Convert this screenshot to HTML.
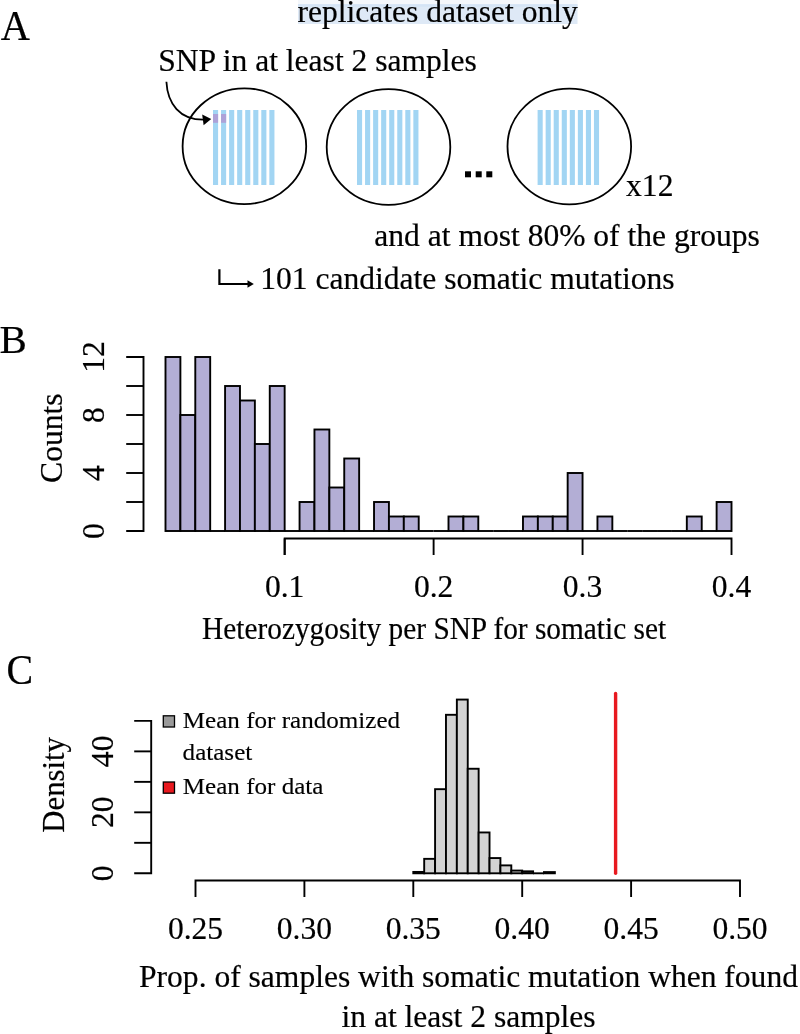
<!DOCTYPE html>
<html><head><meta charset="utf-8"><style>
html,body{margin:0;padding:0;background:#fff;width:800px;height:1034px;overflow:hidden;}
svg{display:block;will-change:transform;}
text{font-family:"Liberation Serif",serif;fill:#000;stroke:#000;stroke-width:0.2px;}
</style></head><body>
<svg width="800" height="1034" viewBox="0 0 800 1034">
<rect x="298" y="0" width="279.5" height="4.2" fill="#f4f7fb"/>
<rect x="298" y="4.2" width="279.5" height="19.8" fill="#dee9f6"/>
<rect x="298" y="4.2" width="279.5" height="2.5" fill="#d5e4f5"/>
<text x="297.5" y="21.75" font-size="31.55">replicates dataset only</text>
<text transform="translate(0.8,39.75) scale(0.962,1)" font-size="42">A</text>
<text x="158.2" y="70.5" font-size="31.55">SNP in at least 2 samples</text>
<rect x="213.00" y="110" width="5.1" height="75" fill="#a2d5f3"/>
<rect x="221.05" y="110" width="5.1" height="75" fill="#a2d5f3"/>
<rect x="229.10" y="110" width="5.1" height="75" fill="#a2d5f3"/>
<rect x="237.15" y="110" width="5.1" height="75" fill="#a2d5f3"/>
<rect x="245.20" y="110" width="5.1" height="75" fill="#a2d5f3"/>
<rect x="253.25" y="110" width="5.1" height="75" fill="#a2d5f3"/>
<rect x="261.30" y="110" width="5.1" height="75" fill="#a2d5f3"/>
<rect x="269.35" y="110" width="5.1" height="75" fill="#a2d5f3"/>
<ellipse cx="244.4" cy="146.2" rx="61.8" ry="57.9" fill="none" stroke="#000" stroke-width="1.8"/>
<rect x="357.00" y="110" width="5.1" height="75" fill="#a2d5f3"/>
<rect x="365.05" y="110" width="5.1" height="75" fill="#a2d5f3"/>
<rect x="373.10" y="110" width="5.1" height="75" fill="#a2d5f3"/>
<rect x="381.15" y="110" width="5.1" height="75" fill="#a2d5f3"/>
<rect x="389.20" y="110" width="5.1" height="75" fill="#a2d5f3"/>
<rect x="397.25" y="110" width="5.1" height="75" fill="#a2d5f3"/>
<rect x="405.30" y="110" width="5.1" height="75" fill="#a2d5f3"/>
<rect x="413.35" y="110" width="5.1" height="75" fill="#a2d5f3"/>
<ellipse cx="388.5" cy="147" rx="61.8" ry="57.9" fill="none" stroke="#000" stroke-width="1.8"/>
<rect x="537.60" y="110" width="5.1" height="75" fill="#a2d5f3"/>
<rect x="545.65" y="110" width="5.1" height="75" fill="#a2d5f3"/>
<rect x="553.70" y="110" width="5.1" height="75" fill="#a2d5f3"/>
<rect x="561.75" y="110" width="5.1" height="75" fill="#a2d5f3"/>
<rect x="569.80" y="110" width="5.1" height="75" fill="#a2d5f3"/>
<rect x="577.85" y="110" width="5.1" height="75" fill="#a2d5f3"/>
<rect x="585.90" y="110" width="5.1" height="75" fill="#a2d5f3"/>
<rect x="593.95" y="110" width="5.1" height="75" fill="#a2d5f3"/>
<ellipse cx="569.3" cy="146.5" rx="61.8" ry="57.9" fill="none" stroke="#000" stroke-width="1.8"/>
<rect x="213" y="114" width="5.1" height="8.8" fill="#ada2d8"/>
<rect x="221.05" y="114" width="5.1" height="8.8" fill="#ada2d8"/>
<path d="M166.4,81.8 C167.5,104 180,119.6 203,119.6" fill="none" stroke="#000" stroke-width="1.8"/>
<path d="M211.2,119 L202.2,114.4 L203.6,125.2 Z" fill="#000"/>
<rect x="465" y="171.3" width="6" height="6" fill="#000"/>
<rect x="475.7" y="171.3" width="6" height="6" fill="#000"/>
<rect x="486.3" y="171.3" width="6" height="6" fill="#000"/>
<text x="626.1" y="195.8" font-size="31.55">x12</text>
<text x="374.3" y="245.6" font-size="31.55">and at most 80% of the groups</text>
<path d="M219.4,269.2 V284 H249" fill="none" stroke="#000" stroke-width="2.2"/>
<path d="M253.8,284 L247.5,280.3 L247.5,287.7 Z" fill="#000"/>
<text x="260.2" y="288.75" font-size="31.55">101 candidate somatic mutations</text>
<text x="-0.4" y="353.4" font-size="41">B</text>
<rect x="165.50" y="357.00" width="14.89" height="174.00" fill="#b3aed5" stroke="#000" stroke-width="1.9"/>
<rect x="180.39" y="415.00" width="14.90" height="116.00" fill="#b3aed5" stroke="#000" stroke-width="1.9"/>
<rect x="195.29" y="357.00" width="14.90" height="174.00" fill="#b3aed5" stroke="#000" stroke-width="1.9"/>
<path d="M210.19,531.0 H225.08" stroke="#000" stroke-width="1.9"/>
<rect x="225.08" y="386.00" width="14.89" height="145.00" fill="#b3aed5" stroke="#000" stroke-width="1.9"/>
<rect x="239.97" y="400.50" width="14.90" height="130.50" fill="#b3aed5" stroke="#000" stroke-width="1.9"/>
<rect x="254.87" y="444.00" width="14.89" height="87.00" fill="#b3aed5" stroke="#000" stroke-width="1.9"/>
<rect x="269.76" y="386.00" width="14.89" height="145.00" fill="#b3aed5" stroke="#000" stroke-width="1.9"/>
<path d="M284.66,531.0 H299.56" stroke="#000" stroke-width="1.9"/>
<rect x="299.56" y="502.00" width="14.89" height="29.00" fill="#b3aed5" stroke="#000" stroke-width="1.9"/>
<rect x="314.45" y="429.50" width="14.90" height="101.50" fill="#b3aed5" stroke="#000" stroke-width="1.9"/>
<rect x="329.35" y="487.50" width="14.89" height="43.50" fill="#b3aed5" stroke="#000" stroke-width="1.9"/>
<rect x="344.24" y="458.50" width="14.90" height="72.50" fill="#b3aed5" stroke="#000" stroke-width="1.9"/>
<path d="M359.13,531.0 H374.03" stroke="#000" stroke-width="1.9"/>
<rect x="374.03" y="502.00" width="14.89" height="29.00" fill="#b3aed5" stroke="#000" stroke-width="1.9"/>
<rect x="388.93" y="516.50" width="14.90" height="14.50" fill="#b3aed5" stroke="#000" stroke-width="1.9"/>
<rect x="403.82" y="516.50" width="14.90" height="14.50" fill="#b3aed5" stroke="#000" stroke-width="1.9"/>
<path d="M418.72,531.0 H433.61" stroke="#000" stroke-width="1.9"/>
<path d="M433.61,531.0 H448.51" stroke="#000" stroke-width="1.9"/>
<rect x="448.50" y="516.50" width="14.89" height="14.50" fill="#b3aed5" stroke="#000" stroke-width="1.9"/>
<rect x="463.40" y="516.50" width="14.90" height="14.50" fill="#b3aed5" stroke="#000" stroke-width="1.9"/>
<path d="M478.30,531.0 H493.19" stroke="#000" stroke-width="1.9"/>
<path d="M493.19,531.0 H508.08" stroke="#000" stroke-width="1.9"/>
<path d="M508.08,531.0 H522.98" stroke="#000" stroke-width="1.9"/>
<rect x="522.98" y="516.50" width="14.89" height="14.50" fill="#b3aed5" stroke="#000" stroke-width="1.9"/>
<rect x="537.88" y="516.50" width="14.89" height="14.50" fill="#b3aed5" stroke="#000" stroke-width="1.9"/>
<rect x="552.77" y="516.50" width="14.89" height="14.50" fill="#b3aed5" stroke="#000" stroke-width="1.9"/>
<rect x="567.66" y="473.00" width="14.89" height="58.00" fill="#b3aed5" stroke="#000" stroke-width="1.9"/>
<path d="M582.56,531.0 H597.45" stroke="#000" stroke-width="1.9"/>
<rect x="597.45" y="516.50" width="14.89" height="14.50" fill="#b3aed5" stroke="#000" stroke-width="1.9"/>
<path d="M612.35,531.0 H627.25" stroke="#000" stroke-width="1.9"/>
<path d="M627.25,531.0 H642.14" stroke="#000" stroke-width="1.9"/>
<path d="M642.14,531.0 H657.03" stroke="#000" stroke-width="1.9"/>
<path d="M657.03,531.0 H671.93" stroke="#000" stroke-width="1.9"/>
<path d="M671.93,531.0 H686.82" stroke="#000" stroke-width="1.9"/>
<rect x="686.82" y="516.50" width="14.90" height="14.50" fill="#b3aed5" stroke="#000" stroke-width="1.9"/>
<path d="M701.72,531.0 H716.62" stroke="#000" stroke-width="1.9"/>
<rect x="716.62" y="502.00" width="14.89" height="29.00" fill="#b3aed5" stroke="#000" stroke-width="1.9"/>
<path d="M126.2,357 H143.5 V531 H126.2" fill="none" stroke="#000" stroke-width="1.9"/>
<path d="M126.2,502 H143.5" stroke="#000" stroke-width="1.9"/>
<path d="M126.2,473 H143.5" stroke="#000" stroke-width="1.9"/>
<path d="M126.2,444 H143.5" stroke="#000" stroke-width="1.9"/>
<path d="M126.2,415 H143.5" stroke="#000" stroke-width="1.9"/>
<path d="M126.2,386 H143.5" stroke="#000" stroke-width="1.9"/>
<text transform="translate(104.0,531.0) rotate(-90)" text-anchor="middle" font-size="31.55">0</text>
<text transform="translate(104.0,473.0) rotate(-90)" text-anchor="middle" font-size="31.55">4</text>
<text transform="translate(104.0,415.0) rotate(-90)" text-anchor="middle" font-size="31.55">8</text>
<text transform="translate(104.0,357.0) rotate(-90)" text-anchor="middle" font-size="31.55">12</text>
<text transform="translate(61.9,438.2) rotate(-90)" text-anchor="middle" font-size="31.55">Counts</text>
<path d="M284.66,555 V538.5 H731.51 V555" fill="none" stroke="#000" stroke-width="1.9"/>
<path d="M284.66,538.5 V555" stroke="#000" stroke-width="1.9"/>
<path d="M433.61,538.5 V555" stroke="#000" stroke-width="1.9"/>
<path d="M582.56,538.5 V555" stroke="#000" stroke-width="1.9"/>
<text x="284.66" y="596.6" text-anchor="middle" font-size="31.55">0.1</text>
<text x="433.61" y="596.6" text-anchor="middle" font-size="31.55">0.2</text>
<text x="582.56" y="596.6" text-anchor="middle" font-size="31.55">0.3</text>
<text x="731.51" y="596.6" text-anchor="middle" font-size="31.55">0.4</text>
<text x="202.1" y="638.8" font-size="31.55" textLength="464" lengthAdjust="spacingAndGlyphs">Heterozygosity per SNP for somatic set</text>
<text transform="translate(6.6,683.7) scale(0.95,1)" font-size="42">C</text>
<rect x="413.30" y="871.93" width="10.89" height="1.37" fill="#d3d3d3" stroke="#000" stroke-width="1.9"/>
<rect x="424.19" y="858.85" width="10.89" height="14.45" fill="#d3d3d3" stroke="#000" stroke-width="1.9"/>
<rect x="435.08" y="789.18" width="10.89" height="84.12" fill="#d3d3d3" stroke="#000" stroke-width="1.9"/>
<rect x="445.97" y="714.80" width="10.89" height="158.50" fill="#d3d3d3" stroke="#000" stroke-width="1.9"/>
<rect x="456.86" y="699.56" width="10.89" height="173.74" fill="#d3d3d3" stroke="#000" stroke-width="1.9"/>
<rect x="467.75" y="768.75" width="10.89" height="104.55" fill="#d3d3d3" stroke="#000" stroke-width="1.9"/>
<rect x="478.64" y="832.46" width="10.89" height="40.84" fill="#d3d3d3" stroke="#000" stroke-width="1.9"/>
<rect x="489.53" y="858.06" width="10.89" height="15.24" fill="#d3d3d3" stroke="#000" stroke-width="1.9"/>
<rect x="500.42" y="865.38" width="10.89" height="7.92" fill="#d3d3d3" stroke="#000" stroke-width="1.9"/>
<rect x="511.31" y="870.56" width="10.89" height="2.74" fill="#d3d3d3" stroke="#000" stroke-width="1.9"/>
<rect x="522.20" y="871.32" width="10.89" height="1.98" fill="#d3d3d3" stroke="#000" stroke-width="1.9"/>
<path d="M533.09,873.3 H543.98" stroke="#000" stroke-width="1.9"/>
<rect x="543.98" y="872.08" width="10.89" height="1.22" fill="#d3d3d3" stroke="#000" stroke-width="1.9"/>
<path d="M134.2,720.90 H151.2 V873.3 H134.2" fill="none" stroke="#000" stroke-width="1.9"/>
<path d="M134.2,842.82 H151.2" stroke="#000" stroke-width="1.9"/>
<path d="M134.2,812.34 H151.2" stroke="#000" stroke-width="1.9"/>
<path d="M134.2,781.86 H151.2" stroke="#000" stroke-width="1.9"/>
<path d="M134.2,751.38 H151.2" stroke="#000" stroke-width="1.9"/>
<text transform="translate(112.7,873.30) rotate(-90)" text-anchor="middle" font-size="31.55">0</text>
<text transform="translate(112.7,812.34) rotate(-90)" text-anchor="middle" font-size="31.55">20</text>
<text transform="translate(112.7,751.38) rotate(-90)" text-anchor="middle" font-size="31.55">40</text>
<text transform="translate(63.6,784.9) rotate(-90)" text-anchor="middle" font-size="30.7">Density</text>
<path d="M195.50,897 V880.5 H740.00 V897" fill="none" stroke="#000" stroke-width="1.9"/>
<path d="M304.40,880.5 V897" stroke="#000" stroke-width="1.9"/>
<path d="M413.30,880.5 V897" stroke="#000" stroke-width="1.9"/>
<path d="M522.20,880.5 V897" stroke="#000" stroke-width="1.9"/>
<path d="M631.10,880.5 V897" stroke="#000" stroke-width="1.9"/>
<text x="195.50" y="938.75" text-anchor="middle" font-size="31.55">0.25</text>
<text x="304.40" y="938.75" text-anchor="middle" font-size="31.55">0.30</text>
<text x="413.30" y="938.75" text-anchor="middle" font-size="31.55">0.35</text>
<text x="522.20" y="938.75" text-anchor="middle" font-size="31.55">0.40</text>
<text x="631.10" y="938.75" text-anchor="middle" font-size="31.55">0.45</text>
<text x="740.00" y="938.75" text-anchor="middle" font-size="31.55">0.50</text>
<text x="468.5" y="987.4" text-anchor="middle" font-size="31.55">Prop. of samples with somatic mutation when found</text>
<text x="468.5" y="1027" text-anchor="middle" font-size="31.55">in at least 2 samples</text>
<path d="M615.6,693.4 V873.3" stroke="#e8191f" stroke-width="3.4" stroke-linecap="round"/>
<rect x="163.3" y="715.8" width="11.2" height="11.2" fill="#9a9a9a" stroke="#000" stroke-width="1.3"/>
<rect x="163.3" y="782" width="11.2" height="11.2" fill="#e8191f" stroke="#000" stroke-width="1.3"/>
<text transform="translate(182.8,728) scale(1.02,0.98)" font-size="24.6" style="stroke-width:0.15px">Mean for randomized</text>
<text transform="translate(182.6,760) scale(1.02,0.98)" font-size="24.6" style="stroke-width:0.15px">dataset</text>
<text transform="translate(182.8,794.2) scale(1.02,0.98)" font-size="24.6" style="stroke-width:0.15px">Mean for data</text>
</svg>
</body></html>
